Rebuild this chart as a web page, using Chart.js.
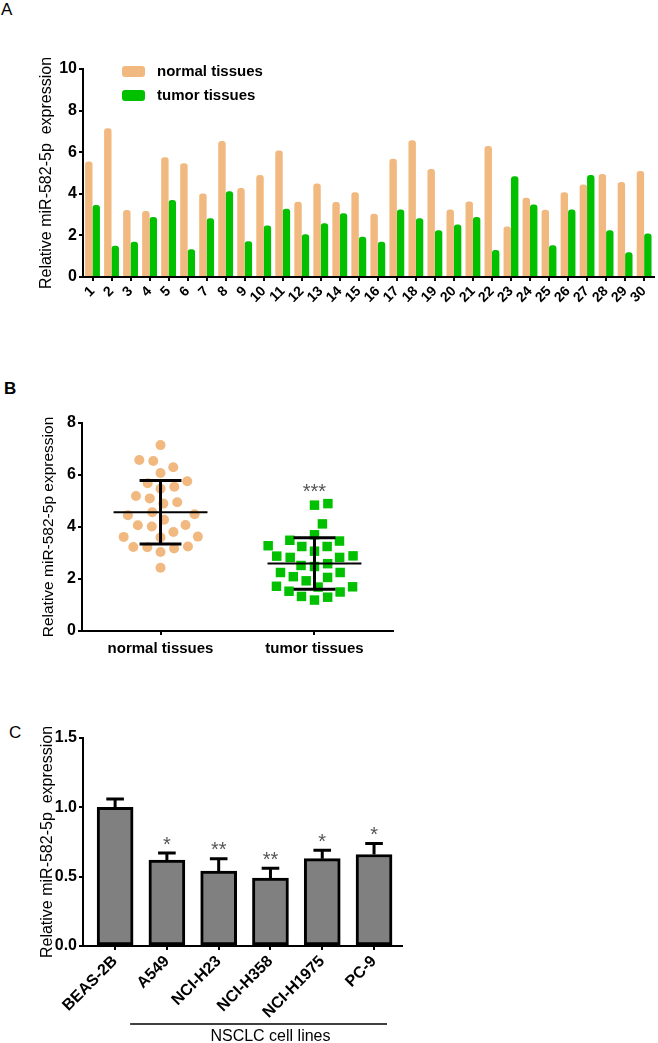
<!DOCTYPE html>
<html>
<head>
<meta charset="utf-8">
<script src="https://cdn.jsdelivr.net/npm/chart.js@4.4.0/dist/chart.umd.min.js"></script>
<style>
    body { margin: 0; background: #fff; width: 658px; height: 1043px; overflow: hidden; position: relative; font-family: "Liberation Sans", Arial, sans-serif; }
    .panel { position: absolute; left: 0; width: 658px; }
    .letter { position: absolute; font-size: 17px; color: #000; line-height: 1; }
</style>
</head>
<body>
<div class="letter" style="left:1px;top:1px">A</div>
<div class="letter" style="left:4px;top:380px;font-weight:bold">B</div>
<div class="letter" style="left:9px;top:724px">C</div>
<div class="panel" style="top:0;height:320px"><canvas id="chartA"></canvas></div>
<div class="panel" style="top:360px;height:330px"><canvas id="chartB"></canvas></div>
<div class="panel" style="top:690px;height:353px"><canvas id="chartC"></canvas></div>
<script>
// panel A: per patient
const patientLabels = ['1', '2', '3', '4', '5', '6', '7', '8', '9', '10', '11', '12', '13', '14', '15',
    '16', '17', '18', '19', '20', '21', '22', '23', '24', '25', '26', '27', '28', '29', '30'];
const normalTissues = [5.55, 7.15, 3.22, 3.17, 5.76, 5.47, 4.02, 6.54, 4.28, 4.90, 6.08, 3.62, 4.49, 3.60, 4.07,
    3.04, 5.68, 6.58, 5.19, 3.25, 3.63, 6.30, 2.43, 3.81, 3.23, 4.08, 4.45, 4.95, 4.57, 5.10];
const tumorTissues = [3.46, 1.50, 1.69, 2.89, 3.70, 1.33, 2.83, 4.12, 1.72, 2.48, 3.28, 2.06, 2.59, 3.07, 1.93,
    1.70, 3.25, 2.83, 2.25, 2.52, 2.88, 1.30, 4.84, 3.49, 1.53, 3.25, 4.90, 2.25, 1.19, 2.09];

// panel B: group summary
const groupLabels = ['normal tissues', 'tumor tissues'];
const groupMean = [4.57, 2.60];
const groupSd = [1.22, 0.99];
const groupStars = ['', '***'];

// panel C: cell lines
const cellLines = ['BEAS-2B', 'A549', 'NCI-H23', 'NCI-H358', 'NCI-H1975', 'PC-9'];
const cellExpression = [1.00, 0.62, 0.54, 0.49, 0.63, 0.66];
const cellError = [0.06, 0.05, 0.09, 0.07, 0.06, 0.08];
const cellStars = ['', '*', '**', '**', '*', '*'];

const peach = 'rgb(241, 184, 127)';
const green = 'rgb(0, 192, 0)';
const grey = 'rgb(128, 128, 128)';
const starGrey = '#555';

Chart.defaults.font.family = '"Liberation Sans", Arial, sans-serif';
Chart.defaults.color = '#000';
Chart.defaults.animation = false;

const axisGrid = { display: true, drawOnChartArea: false, offset: false, tickLength: 4, color: '#000', lineWidth: 2 };
const axisBorder = { display: true, color: '#000', width: 2 };

// legend drawn inside the plot, stacked
const legendInside = {
    id: 'legendInside',
    afterDraw(chart) {
        const { ctx, chartArea } = chart;
        ctx.save();
        chart.data.datasets.forEach((ds, i) => {
            const x = chartArea.left + 39;
            const y = chartArea.top - 3 + i * 24;
            ctx.fillStyle = ds.backgroundColor;
            ctx.beginPath();
            ctx.roundRect(x, y, 23, 11, 3);
            ctx.fill();
            ctx.fillStyle = '#000';
            ctx.font = 'bold 15px "Liberation Sans", Arial, sans-serif';
            ctx.textBaseline = 'middle';
            ctx.fillText(ds.label, x + 35, y + 6);
        });
        ctx.restore();
    }
};

new Chart('chartA', {
    type: 'bar',
    data: {
        labels: patientLabels,
        datasets: [{
            label: 'normal tissues',
            data: normalTissues,
            backgroundColor: peach,
            borderRadius: 3
        }, {
            label: 'tumor tissues',
            data: tumorTissues,
            backgroundColor: green,
            borderRadius: 3
        }]
    },
    options: {
        responsive: true,
        maintainAspectRatio: false,
        layout: { padding: { top: 69, left: 0, right: 0, bottom: 0 } },
        datasets: { bar: { categoryPercentage: 0.78, barPercentage: 1.0 } },
        plugins: { legend: { display: false }, tooltip: { enabled: false } },
        scales: {
            x: {
                grid: axisGrid,
                border: axisBorder,
                ticks: { autoSkip: false, maxRotation: 45, minRotation: 45, padding: 2, font: { size: 14, weight: 'bold' } },
                afterFit: s => { s.height = 43; }
            },
            y: {
                min: 0,
                max: 10,
                grid: axisGrid,
                border: axisBorder,
                ticks: { stepSize: 2, padding: 2, font: { size: 16, weight: 'bold' } },
                title: {
                    display: true,
                    text: 'Relative miR-582-5p  expression',
                    font: { size: 16 },
                    padding: { top: 37, bottom: 0 }
                },
                afterFit: s => { s.width = 83; }
            }
        }
    },
    plugins: [legendInside]
});

// spread points of one group sideways so they do not overlap
function swarm(values, diameter, pxPerY, pxPerX) {
    const order = values.map((v, i) => i).sort((a, b) => values[a] - values[b]);
    const placed = [];
    const offsets = new Array(values.length).fill(0);
    order.forEach(i => {
        const py = values[i] * pxPerY;
        const near = placed.filter(p => Math.abs(p.y - py) < diameter);
        const candidates = [0];
        near.forEach(p => {
            const dx = Math.sqrt(diameter * diameter - (p.y - py) ** 2);
            candidates.push(p.x + dx, p.x - dx);
        });
        const ok = candidates.filter(c => near.every(p => Math.hypot(p.x - c, p.y - py) >= diameter - 1e-6));
        ok.sort((a, b) => Math.abs(a) - Math.abs(b));
        placed.push({ x: ok[0], y: py });
        offsets[i] = ok[0] / pxPerX;
    });
    return offsets;
}

const normalOffsets = swarm(normalTissues, 14, 26, 154);
const tumorOffsets = swarm(tumorTissues, 13.5, 26, 154);

const meanSdBars = {
    id: 'meanSdBars',
    afterDatasetsDraw(chart) {
        const { ctx, scales: { x, y } } = chart;
        ctx.save();
        ctx.strokeStyle = '#000';
        groupMean.forEach((m, i) => {
            const cx = x.getPixelForValue(i);
            const half = x.getPixelForValue(i + 0.305) - cx;
            const cap = x.getPixelForValue(i + 0.136) - cx;
            const yMean = y.getPixelForValue(m);
            const yHi = y.getPixelForValue(m + groupSd[i]);
            const yLo = y.getPixelForValue(m - groupSd[i]);
            ctx.lineWidth = 2;
            ctx.beginPath();
            ctx.moveTo(cx - half, yMean);
            ctx.lineTo(cx + half, yMean);
            ctx.stroke();
            ctx.lineWidth = 3;
            ctx.beginPath();
            ctx.moveTo(cx, yHi);
            ctx.lineTo(cx, yLo);
            ctx.moveTo(cx - cap, yHi);
            ctx.lineTo(cx + cap, yHi);
            ctx.moveTo(cx - cap, yLo);
            ctx.lineTo(cx + cap, yLo);
            ctx.stroke();
        });
        // significance mark above the highest point of the group
        const groups = [normalTissues, tumorTissues];
        ctx.fillStyle = starGrey;
        ctx.font = '20px "Liberation Sans", Arial, sans-serif';
        ctx.textAlign = 'center';
        ctx.textBaseline = 'alphabetic';
        groupStars.forEach((s, i) => {
            if (!s) return;
            const top = y.getPixelForValue(Math.max(...groups[i]));
            ctx.fillText(s, x.getPixelForValue(i), top - 17 + 11.5);
        });
        ctx.restore();
    }
};

new Chart('chartB', {
    type: 'scatter',
    data: {
        datasets: [{
            label: groupLabels[0],
            data: normalTissues.map((v, i) => ({ x: 0 + normalOffsets[i], y: v })),
            backgroundColor: peach,
            borderWidth: 0,
            pointStyle: 'circle',
            pointRadius: 5
        }, {
            label: groupLabels[1],
            data: tumorTissues.map((v, i) => ({ x: 1 + tumorOffsets[i], y: v })),
            backgroundColor: green,
            borderWidth: 0,
            pointStyle: 'rect',
            pointRadius: 6.7
        }]
    },
    options: {
        responsive: true,
        maintainAspectRatio: false,
        layout: { padding: { top: 63, left: 0, right: 265, bottom: 0 } },
        plugins: { legend: { display: false }, tooltip: { enabled: false } },
        scales: {
            x: {
                type: 'linear',
                min: -0.51,
                max: 1.51,
                offset: false,
                grid: axisGrid,
                border: axisBorder,
                afterBuildTicks: s => { s.ticks = groupLabels.map((_, i) => ({ value: i })); },
                ticks: { padding: 5, font: { size: 15, weight: 'bold' }, callback: v => groupLabels[v] },
                afterFit: s => { s.height = 59; }
            },
            y: {
                min: 0,
                max: 8,
                grid: axisGrid,
                border: axisBorder,
                ticks: { stepSize: 2, padding: 2, font: { size: 16, weight: 'bold' } },
                title: {
                    display: true,
                    text: 'Relative miR-582-5p expression',
                    font: { size: 15.5 },
                    padding: { top: 39, bottom: 0 }
                },
                afterFit: s => { s.width = 82; }
            }
        }
    },
    plugins: [meanSdBars]
});

const cellErrorBars = {
    id: 'cellErrorBars',
    afterDatasetsDraw(chart) {
        const { ctx, chartArea, scales: { x, y } } = chart;
        ctx.save();
        ctx.strokeStyle = '#000';
        ctx.lineWidth = 3;
        cellExpression.forEach((v, i) => {
            const cx = x.getPixelForValue(i);
            const cap = x.getPixelForValue(i + 0.17) - cx;
            const yTop = y.getPixelForValue(v + cellError[i]);
            ctx.beginPath();
            ctx.moveTo(cx, y.getPixelForValue(v));
            ctx.lineTo(cx, yTop);
            ctx.moveTo(cx - cap, yTop);
            ctx.lineTo(cx + cap, yTop);
            ctx.stroke();
            if (cellStars[i]) {
                ctx.fillStyle = starGrey;
                ctx.font = '20px "Liberation Sans", Arial, sans-serif';
                ctx.textAlign = 'center';
                ctx.textBaseline = 'alphabetic';
                ctx.fillText(cellStars[i], cx, yTop - 14 + 11.5);
            }
        });
        // bracket line under the cancer cell lines
        const lineY = chartArea.bottom + 78;
        ctx.lineWidth = 1.5;
        ctx.beginPath();
        ctx.moveTo(x.getPixelForValue(0.29), lineY);
        ctx.lineTo(x.getPixelForValue(5.25), lineY);
        ctx.stroke();
        ctx.fillStyle = '#000';
        ctx.font = '16px "Liberation Sans", Arial, sans-serif';
        ctx.textAlign = 'center';
        ctx.textBaseline = 'middle';
        ctx.fillText('NSCLC cell lines', x.getPixelForValue(3), lineY + 13);
        ctx.restore();
    }
};

new Chart('chartC', {
    type: 'bar',
    data: {
        datasets: [{
            data: cellExpression.map((v, i) => ({ x: i, y: v })),
            backgroundColor: grey,
            borderColor: '#000',
            borderWidth: 3,
            borderSkipped: false,
            barThickness: 36
        }]
    },
    options: {
        responsive: true,
        maintainAspectRatio: false,
        layout: { padding: { top: 48, left: 0, right: 256, bottom: 0 } },
        plugins: { legend: { display: false }, tooltip: { enabled: false } },
        scales: {
            x: {
                type: 'linear',
                min: -0.62,
                max: 5.54,
                offset: false,
                grid: axisGrid,
                border: axisBorder,
                afterBuildTicks: s => { s.ticks = cellLines.map((_, i) => ({ value: i })); },
                ticks: { autoSkip: false, maxRotation: 45, minRotation: 45, padding: 2, font: { size: 16, weight: 'bold' }, callback: v => cellLines[v] },
                afterFit: s => { s.height = 97; }
            },
            y: {
                min: 0,
                max: 1.5,
                grid: axisGrid,
                border: axisBorder,
                ticks: { stepSize: 0.5, padding: 2, font: { size: 16, weight: 'bold' }, callback: v => v.toFixed(1) },
                title: {
                    display: true,
                    text: 'Relative miR-582-5p  expression',
                    font: { size: 16 },
                    padding: { top: 38, bottom: 0 }
                },
                afterFit: s => { s.width = 83; }
            }
        }
    },
    plugins: [cellErrorBars]
});
</script>
</body>
</html>
